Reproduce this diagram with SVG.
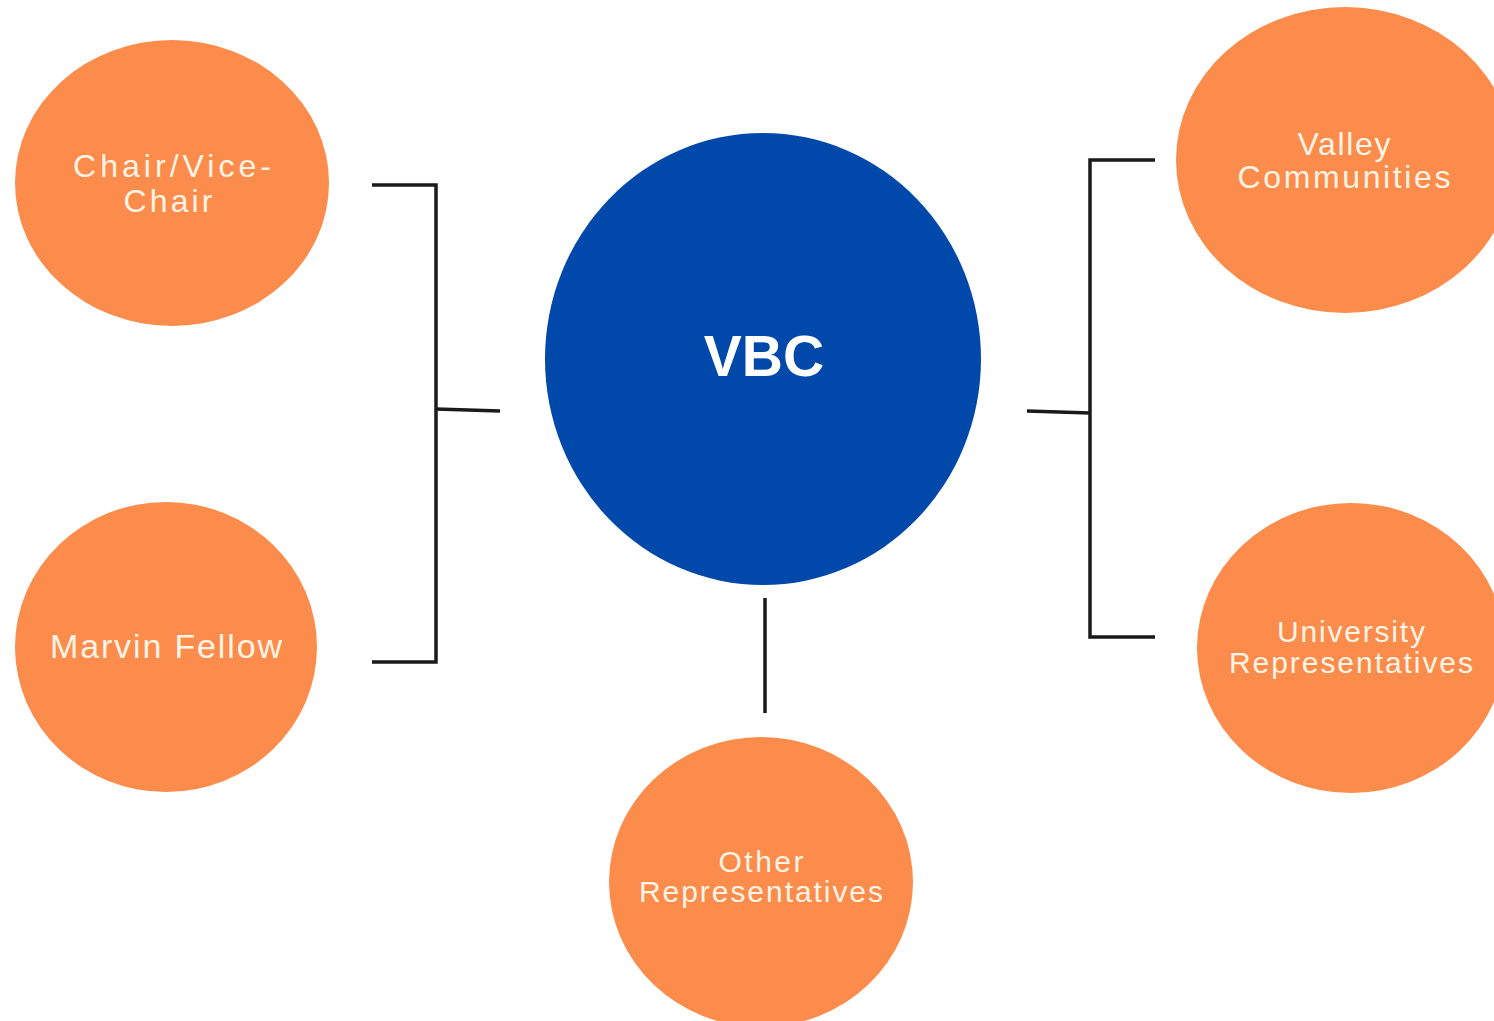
<svg xmlns="http://www.w3.org/2000/svg" width="1494" height="1021" viewBox="0 0 1494 1021">
<style>
.o{fill:#FC8C4B}
.b{fill:#0049AA}
.t{font-family:"Liberation Sans",Arial,sans-serif;fill:#FFF4E6;text-anchor:middle}
.c{stroke:#1a1a1a;stroke-width:3.5;fill:none;stroke-linecap:butt}
</style>
<rect width="1494" height="1021" fill="#ffffff"/>
<g id="connectors">
<path class="c" d="M372 185 H436 V662 H372"/>
<path class="c" d="M436 409 L500 411"/>
<path class="c" d="M1155 160 H1090 V637 H1155"/>
<path class="c" d="M1027 411 L1090 413"/>
<path class="c" d="M765 598 V713"/>
</g>
<g id="vbc">
<ellipse class="b" cx="763" cy="359" rx="218" ry="226"/>
<text class="t" x="764" y="376" font-size="57" font-weight="bold" style="fill:#ffffff">VBC</text>
</g>
<g id="chair">
<ellipse class="o" cx="172" cy="183" rx="157" ry="143"/>
<text class="t" font-size="32"><tspan x="172" y="177" textLength="198" lengthAdjust="spacing">Chair/Vice-</tspan><tspan x="168" y="212" textLength="89" lengthAdjust="spacing">Chair</tspan></text>
</g>
<g id="marvin">
<ellipse class="o" cx="166" cy="647" rx="151" ry="145"/>
<text class="t" font-size="34" x="166" y="658" textLength="232" lengthAdjust="spacing">Marvin Fellow</text>
</g>
<g id="valley">
<ellipse class="o" cx="1345" cy="160" rx="169" ry="153"/>
<text class="t" font-size="32"><tspan x="1344" y="155" textLength="93" lengthAdjust="spacing">Valley</tspan><tspan x="1344" y="188" textLength="213" lengthAdjust="spacing">Communities</tspan></text>
</g>
<g id="university">
<ellipse class="o" cx="1351" cy="648" rx="154" ry="145"/>
<text class="t" font-size="30"><tspan x="1351" y="642" textLength="148" lengthAdjust="spacing">University</tspan><tspan x="1351" y="673" textLength="244" lengthAdjust="spacing">Representatives</tspan></text>
</g>
<g id="other">
<ellipse class="o" cx="761" cy="882" rx="152" ry="145"/>
<text class="t" font-size="30"><tspan x="761" y="872" textLength="85" lengthAdjust="spacing">Other</tspan><tspan x="761" y="902" textLength="244" lengthAdjust="spacing">Representatives</tspan></text>
</g>
</svg>
